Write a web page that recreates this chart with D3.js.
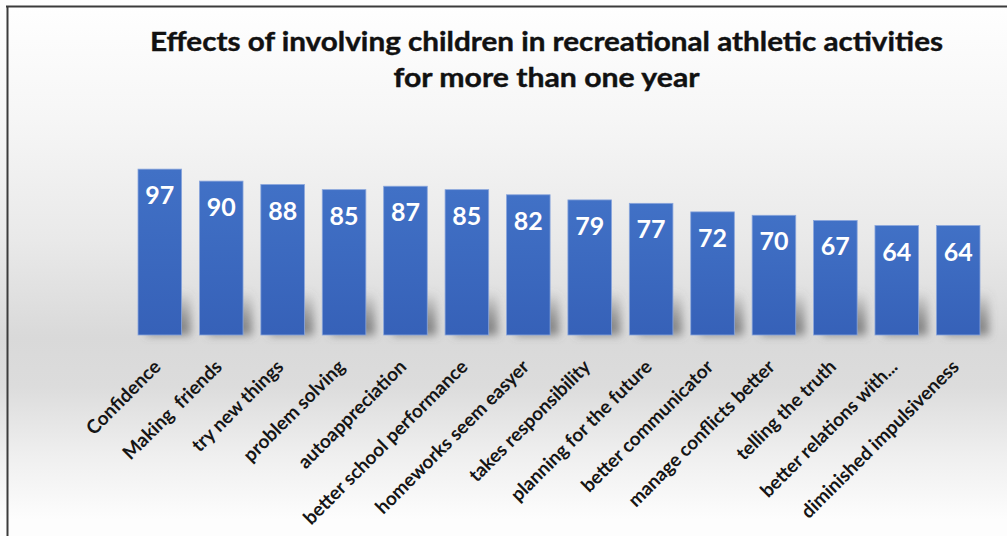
<!DOCTYPE html>
<html><head><meta charset="utf-8">
<script src="https://cdn.jsdelivr.net/npm/d3@7"></script>
<style>body{margin:0;background:#fff}svg{display:block}</style>
</head><body><svg id="c" width="1007" height="536"></svg>
<script>
const categories = ["Confidence","Making  friends","try new things","problem solving","autoappreciation","better school performance","homeworks seem easyer","takes responsibility","planning for the future","better communicator","manage conflicts better","telling the truth","better relations with...","diminished impulsiveness"];
const values = [97,90,88,85,87,85,82,79,77,72,70,67,64,64];
const titleLines = ["Effects of involving children in recreational athletic activities","for more than one year"];

const W = 1007, H = 536;
const svg = d3.select("#c");
const defs = svg.append("defs");

const bg = defs.append("linearGradient").attr("id","bg").attr("x1",0).attr("y1",0).attr("x2",0).attr("y2",1);
[[0,"#ffffff"],[0.22,"#f6f6f6"],[0.45,"#e9e9e9"],[0.63,"#d9d9d9"],[0.72,"#dcdcdc"],[0.85,"#efefef"],[0.97,"#fdfdfd"]]
  .forEach(s=>bg.append("stop").attr("offset",s[0]).attr("stop-color",s[1]));

const barG = defs.append("linearGradient").attr("id","barg").attr("x1",0).attr("y1",0).attr("x2",0).attr("y2",1);
barG.append("stop").attr("offset",0).attr("stop-color","#4171c6");
barG.append("stop").attr("offset",1).attr("stop-color","#3661b8");

const shG = defs.append("linearGradient").attr("id","shg").attr("x1",0).attr("y1",0).attr("x2",0).attr("y2",1);
shG.append("stop").attr("offset",0).attr("stop-color","#666").attr("stop-opacity",0);
shG.append("stop").attr("offset",0.6).attr("stop-color","#666").attr("stop-opacity",0.6);
shG.append("stop").attr("offset",1).attr("stop-color","#666").attr("stop-opacity",0.8);

const blur = defs.append("filter").attr("id","blur").attr("x","-50%").attr("y","-50%").attr("width","200%").attr("height","200%");
blur.append("feGaussianBlur").attr("stdDeviation",4);

svg.append("rect").attr("x",0).attr("y",0).attr("width",W).attr("height",H).attr("fill","url(#bg)");

// border
svg.append("line").attr("x1",6).attr("x2",W).attr("y1",6.5).attr("y2",6.5).attr("stroke","#3c3c3c").attr("stroke-width",2);
svg.append("line").attr("x1",7.5).attr("x2",7.5).attr("y1",6).attr("y2",H).attr("stroke","#3c3c3c").attr("stroke-width",2);

// title
const title = svg.append("g").attr("font-family","Lato, 'Open Sans', sans-serif").attr("font-weight","bold").attr("fill","#111");
const titleWidths = [793, 306];
title.selectAll("text").data(titleLines).join("text")
  .attr("x",546.5).attr("y",(d,i)=>51+i*36)
  .attr("text-anchor","middle").attr("font-size",26)
  .attr("stroke","#111").attr("stroke-width",0.4)
  .attr("textLength",(d,i)=>titleWidths[i]).attr("lengthAdjust","spacingAndGlyphs")
  .text(d=>d);

const x = d3.scaleBand().domain(categories).range([128.8, 989.2]).paddingInner(0.29).paddingOuter(0.15);
const y = d3.scaleLinear().domain([0,100]).range([335,164]);
const data = categories.map((c,i)=>({c, v: values[i]}));

// shadows
svg.append("g").attr("filter","url(#blur)").selectAll("rect").data(data).join("rect")
  .attr("x",d=>x(d.c)+9).attr("y",y(0)-44).attr("width",x.bandwidth()).attr("height",44)
  .attr("fill","url(#shg)");

// bars
svg.append("g").selectAll("rect").data(data).join("rect")
  .attr("x",d=>x(d.c)).attr("y",d=>y(d.v)).attr("width",x.bandwidth()).attr("height",d=>y(0)-y(d.v))
  .attr("fill","url(#barg)").attr("stroke","#8aa6dc").attr("stroke-width",0.8);

// value labels
svg.append("g").attr("font-family","Lato, 'Open Sans', sans-serif").attr("font-weight","bold").attr("fill","#ffffff")
  .selectAll("text").data(data).join("text")
  .attr("x",d=>x(d.c)+x.bandwidth()/2).attr("y",d=>y(d.v)+35)
  .attr("text-anchor","middle").attr("font-size",25).text(d=>d.v);

// category labels
svg.append("g").attr("font-family","Lato, 'Open Sans', sans-serif").attr("font-weight","bold").attr("fill","#151515")
  .selectAll("text").data(data).join("text")
  .attr("transform",d=>`translate(${x(d.c)+x.bandwidth()/2+2},368) rotate(-45)`)
  .attr("text-anchor","end").attr("font-size",19).style("white-space","pre").text(d=>d.c);
</script></body></html>
